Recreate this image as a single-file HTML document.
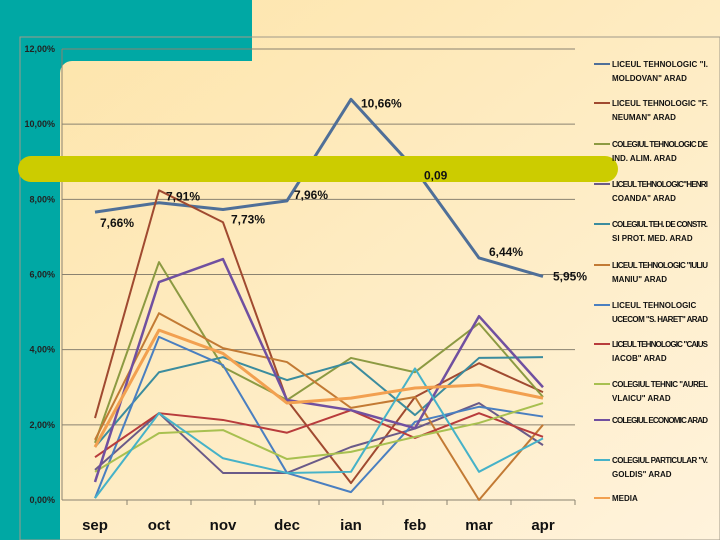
<!DOCTYPE html>
<html><head><meta charset="utf-8"><style>
body{margin:0;width:720px;height:540px;overflow:hidden;font-family:"Liberation Sans",sans-serif}
svg{display:block}
</style></head><body>
<svg id="chart" width="720" height="540">
<defs><linearGradient id="bg" x1="0" y1="0" x2="1" y2="1"><stop offset="0" stop-color="#fde4a8"/><stop offset="1" stop-color="#fff3dc"/></linearGradient></defs>
<rect width="720" height="540" fill="url(#bg)"/>
<path d="M0 0H252V61H72A12 12 0 0 0 60 73V540H0Z" fill="#00a8a4"/>
<rect x="20" y="37" width="700" height="503" fill="none" stroke="#a09a8a" stroke-width="1"/>
<g id="grid"></g><g id="series"></g>
<rect x="18" y="156" width="600" height="26" rx="13" fill="#cccc00"/>
<g id="labels"></g><g id="legend"></g>
</svg>
<script>
const categories=["sep","oct","nov","dec","ian","feb","mar","apr"];
const yTicks=[0,2,4,6,8,10,12];
const yTickLabels=["0,00%","2,00%","4,00%","6,00%","8,00%","10,00%","12,00%"];
const names=["LICEUL TEHNOLOGIC \"I. MOLDOVAN\" ARAD","LICEUL TEHNOLOGIC \"F. NEUMAN\" ARAD","COLEGIUL TEHNOLOGIC DE IND. ALIM. ARAD","LICEUL TEHNOLOGIC \"HENRI COANDA\" ARAD","COLEGIUL TEH. DE CONSTR. SI PROT. MED. ARAD","LICEUL TEHNOLOGIC \"IULIU MANIU\" ARAD","LICEUL TEHNOLOGIC UCECOM \"S. HARET\" ARAD","LICEUL TEHNOLOGIC \"CAIUS IACOB\" ARAD","COLEGIUL TEHNIC \"AUREL VLAICU\" ARAD","COLEGIUL ECONOMIC ARAD","COLEGIUL PARTICULAR \"V. GOLDIS\" ARAD","MEDIA"];
const legendLines=[["LICEUL TEHNOLOGIC \"I.","MOLDOVAN\" ARAD"],["LICEUL TEHNOLOGIC \"F.","NEUMAN\" ARAD"],["COLEGIUL TEHNOLOGIC DE","IND. ALIM. ARAD"],["LICEUL TEHNOLOGIC\"HENRI","COANDA\" ARAD"],["COLEGIUL TEH. DE CONSTR.","SI PROT. MED. ARAD"],["LICEUL TEHNOLOGIC \"IULIU","MANIU\" ARAD"],["LICEUL TEHNOLOGIC","UCECOM \"S. HARET\"  ARAD"],["LICEUL TEHNOLOGIC \"CAIUS","IACOB\" ARAD"],["COLEGIUL TEHNIC \"AUREL","VLAICU\" ARAD"],["COLEGIUL ECONOMIC ARAD"],["COLEGIUL PARTICULAR \"V.","GOLDIS\" ARAD"],["MEDIA"]];
const moldovan=[7.66,7.91,7.73,7.96,10.66,8.8,6.44,5.95];
const neuman=[2.18,8.24,7.39,2.66,0.45,2.74,3.64,2.87];
const alim=[1.52,6.33,3.54,2.66,3.78,3.4,4.7,2.74];
const coanda=[0.8,2.31,0.72,0.72,1.41,1.9,2.58,1.46];
const constr=[1.41,3.4,3.8,3.19,3.67,2.26,3.78,3.8];
const maniu=[1.6,4.97,4.04,3.67,2.45,2.74,0,2.0];
const haret=[0.05,4.34,3.59,0.72,0.21,2.08,2.48,2.22];
const caius=[1.14,2.31,2.13,1.79,2.39,1.65,2.31,1.68];
const vlaicu=[0.75,1.78,1.86,1.09,1.28,1.68,2.05,2.58];
const economic=[0.48,5.8,6.41,2.66,2.39,1.91,4.89,3.0];
const goldis=[0.05,2.31,1.11,0.72,0.75,3.5,0.75,1.64];
const media=[1.41,4.52,3.9,2.58,2.71,2.98,3.06,2.71];
const pointLabels=["7,66%","7,91%","7,73%","7,96%","10,66%","0,09","6,44%","5,95%"];
const NS="http://www.w3.org/2000/svg";
const X0=62,X1=575,Y0=500,Y1=49;
const xs=i=>95+i*64;
const ys=v=>Y0-(v/12)*(Y0-Y1);
function mk(t,a,p){const e=document.createElementNS(NS,t);for(const k in a)e.setAttribute(k,a[k]);p.appendChild(e);return e;}
const grid=document.getElementById('grid');
yTicks.forEach((v,i)=>{
  const l=mk('line',{x1:X0,x2:X1,y1:ys(v),y2:ys(v),stroke:'#8a8270','stroke-width':1},grid);
  
  
  const t=mk('text',{x:55,y:ys(v)+3,'text-anchor':'end','font-size':9,'font-weight':'bold',fill:'#222'},grid);
  t.textContent=yTickLabels[i];
  
  
});
const ax=mk('line',{x1:X0,x2:X0,y1:Y1,y2:Y0,stroke:'#8a8270'},grid);


categories.forEach((c,i)=>{
  const tk=mk('line',{x1:xs(i)+32,x2:xs(i)+32,y1:Y0,y2:Y0+5,stroke:'#8a8270'},grid);
  
  
  const t=mk('text',{x:xs(i),y:530,'text-anchor':'middle','font-size':15,'font-weight':'bold',fill:'#111'},grid);
  t.textContent=c;
  
  
});
const series=[moldovan,neuman,alim,coanda,constr,maniu,haret,caius,vlaicu,economic,goldis,media];
const colors=["#4f6f98","#a04a30","#8c9a42","#6a5a88","#3b8c9e","#c27a34","#4a7fc0","#b83c3c","#a8c050","#7050a0","#46b2c8","#f2a050"];
const widths=[3,2,2,2,2,2,2,2,2,2.5,2,3];
const sg=document.getElementById('series');
series.forEach((s,k)=>{
  const p=mk('polyline',{points:s.map((v,i)=>xs(i)+','+ys(v)).join(' '),fill:'none',stroke:colors[k],'stroke-width':widths[k],'stroke-linejoin':'round'},sg);
  
  
});
const lg=document.getElementById('labels');
const offs=[[5,15],[7,-2],[8,14],[7,-2],[10,8],[9,10],[10,-2],[10,4]];
moldovan.forEach((v,i)=>{
  const t=mk('text',{x:xs(i)+offs[i][0],y:ys(v)+offs[i][1],'font-size':12,'font-weight':'bold',fill:'#111'},lg);
  t.textContent=pointLabels[i];
  
  
});
const leg=document.getElementById('legend');
const legY=[67,106,147,187,227,268,308,347,387,423,463,501];
legendLines.forEach((lines,k)=>{
  const l=mk('line',{x1:594,x2:610,y1:legY[k]-3,y2:legY[k]-3,stroke:colors[k],'stroke-width':2},leg);
  
  
  lines.forEach((ln,j)=>{
    const t=mk('text',{x:612,y:legY[k]+j*14,'font-size':8,'font-weight':'bold',fill:'#111'},leg);
    if(ln.length>18)t.setAttribute('textLength',96);
    t.textContent=ln;
    
    
  });
});
</script>
</body></html>
